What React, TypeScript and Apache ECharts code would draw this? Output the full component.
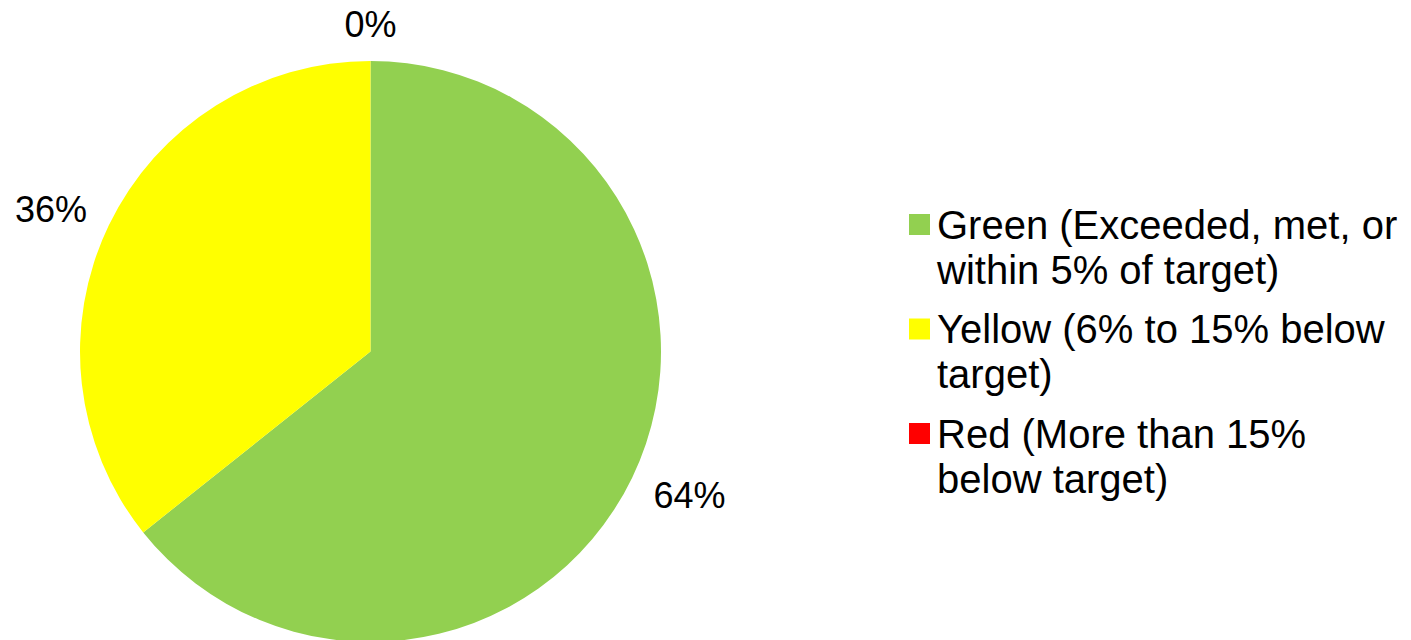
import React, { useEffect, useRef } from "react";
import * as echarts from "echarts";

const categories = [
  "Green (Exceeded, met, or within 5% of target)",
  "Yellow (6% to 15% below target)",
  "Red (More than 15% below target)",
];
const values = [64.3, 35.7, 0];
const colors = ["#92D050", "#FFFF00", "#FF0000"];
const labelNudgeX = [-12, 11.5, 0];
const labelNudgeY = [2, 0, 0];
const labelAlign: (string | undefined)[] = [undefined, undefined, "center"];

export default function App() {
  const ref = useRef<HTMLDivElement>(null);
  useEffect(() => {
    document.body.style.margin = "0";
    const chart = echarts.init(ref.current!, null, { renderer: "svg" });
    chart.setOption({
      animation: false,
      textStyle: { fontFamily: "'Liberation Sans', Arial, sans-serif" },
      legend: {
        orient: "vertical",
        left: 909,
        top: 157,
        padding: 0,
        itemGap: -30.5,
        itemWidth: 21,
        itemHeight: 21,
        icon: "rect",
        selectedMode: false,
        data: categories,
        // leading blank line keeps the marker level with the first text line
        formatter: (name: string) => "\n" + name,
        textStyle: {
          fontSize: 40,
          lineHeight: 45,
          color: "#000",
          width: 472,
          overflow: "break",
          padding: [0, 0, 0, 2],
        },
      },
      series: [
        {
          type: "pie",
          center: [370.5, 351.5],
          radius: 290.5,
          startAngle: 90,
          clockwise: true,
          avoidLabelOverlap: false,
          percentPrecision: 0,
          label: {
            show: true,
            position: "outside",
            formatter: "{d}%",
            fontSize: 36,
            color: "#000",
            distanceToLabelLine: 0,
          },
          labelLine: { show: false, length: 37, length2: 0 },
          labelLayout: (p: any) => ({
            dx: labelNudgeX[p.dataIndex],
            dy: labelNudgeY[p.dataIndex],
            align: labelAlign[p.dataIndex],
          }),
          itemStyle: { borderWidth: 0 },
          emphasis: { disabled: true },
          data: categories.map((name, i) => ({
            name,
            value: values[i],
            itemStyle: { color: colors[i] },
          })),
        },
      ],
    });
    return () => chart.dispose();
  }, []);
  return <div ref={ref} style={{ width: 1411, height: 640 }} />;
}
